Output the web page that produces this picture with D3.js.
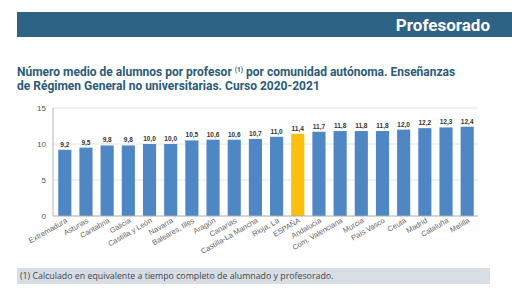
<!DOCTYPE html>
<html>
<head>
<meta charset="utf-8">
<script src="https://cdn.jsdelivr.net/npm/d3@7"></script>
<style>
  body { margin: 0; background: #fff; }
  svg { display: block; font-family: "Liberation Sans", Arial, sans-serif; }
</style>
</head>
<body>
<div id="chart"></div>
<script>
var regions = ['Extremadura', 'Asturias', 'Cantabria', 'Galicia', 'Castilla y León',
    'Navarra', 'Baleares, Illes', 'Aragón', 'Canarias', 'Castilla-La Mancha',
    'Rioja, La', 'ESPAÑA', 'Andalucía', 'Com. Valenciana', 'Murcia', 'País Vasco',
    'Ceuta', 'Madrid', 'Cataluña', 'Melilla'];
var ratios = [9.2, 9.5, 9.8, 9.8, 10.0, 10.0, 10.5, 10.6, 10.6, 10.7,
    11.0, 11.4, 11.7, 11.8, 11.8, 11.8, 12.0, 12.2, 12.3, 12.4];
var yTicks = [0, 5, 10, 15];

var width = 512, height = 293;
var blue = '#4f87c5', highlight = '#fbbf0e';

var svg = d3.select('#chart').append('svg')
    .attr('width', width)
    .attr('height', height);

// header band
svg.append('rect')
    .attr('x', 17).attr('y', 12)
    .attr('width', width - 17).attr('height', 25)
    .attr('fill', '#2d6384');
svg.append('text')
    .attr('x', 490).attr('y', 31)
    .attr('text-anchor', 'end')
    .attr('fill', '#fff')
    .attr('font-size', 17)
    .attr('font-weight', 'bold')
    .attr('font-family', 'Roboto, "Liberation Sans", sans-serif')
    .text('Profesorado');

// title
var title = svg.append('text')
    .attr('fill', '#2b5b78')
    .attr('font-size', 12)
    .attr('font-weight', 'bold')
    .attr('font-family', 'Roboto, "Liberation Sans", sans-serif');
var line1 = title.append('tspan').attr('x', 17).attr('y', 76);
line1.append('tspan').text('Número medio de alumnos por profesor ');
line1.append('tspan').attr('font-size', 6.5).attr('dy', -4).text('(1)');
line1.append('tspan').attr('dy', 4).text(' por comunidad autónoma. Enseñanzas');
title.append('tspan').attr('x', 17).attr('y', 89.5)
    .text('de Régimen General no universitarias. Curso 2020-2021');

// plot
var x = d3.scaleBand()
    .domain(regions)
    .range([54, 478])
    .paddingInner(0.38)
    .paddingOuter(0.2);

var y = d3.scaleLinear()
    .domain([0, 15])
    .range([216, 108]);

var grid = svg.append('g');
grid.selectAll('line')
    .data(yTicks.filter(function (d) { return d > 0; }))
  .enter().append('line')
    .attr('x1', 53).attr('x2', 478)
    .attr('y1', function (d) { return y(d); })
    .attr('y2', function (d) { return y(d); })
    .attr('stroke', '#e4e4e4');

svg.append('line')
    .attr('x1', 53).attr('x2', 53)
    .attr('y1', y(15)).attr('y2', y(0))
    .attr('stroke', '#b8b8b8');

svg.selectAll('.ytick')
    .data(yTicks)
  .enter().append('text')
    .attr('class', 'ytick')
    .attr('x', 46)
    .attr('y', function (d) { return y(d) + 3; })
    .attr('text-anchor', 'end')
    .attr('font-size', 8)
    .attr('fill', '#555')
    .text(function (d) { return d; });

svg.selectAll('.bar')
    .data(ratios)
  .enter().append('rect')
    .attr('class', 'bar')
    .attr('x', function (d, i) { return x(regions[i]); })
    .attr('width', x.bandwidth())
    .attr('y', function (d) { return y(d); })
    .attr('height', function (d) { return y(0) - y(d); })
    .attr('fill', function (d, i) { return regions[i] === 'ESPAÑA' ? highlight : blue; });

svg.selectAll('.val')
    .data(ratios)
  .enter().append('text')
    .attr('class', 'val')
    .attr('x', function (d, i) { return x(regions[i]) + x.bandwidth() / 2; })
    .attr('y', function (d) { return y(d) - 3; })
    .attr('text-anchor', 'middle')
    .attr('font-size', 6.5)
    .attr('font-weight', 'bold')
    .attr('fill', '#333')
    .text(function (d) { return d.toFixed(1).replace('.', ','); });

svg.append('line')
    .attr('x1', 53).attr('x2', 478)
    .attr('y1', y(0)).attr('y2', y(0))
    .attr('stroke', '#aaa');

svg.selectAll('.xlab')
    .data(regions)
  .enter().append('text')
    .attr('class', 'xlab')
    .attr('transform', function (d) {
        return 'translate(' + (x(d) + x.bandwidth() / 2 + 3) + ',' + 222 + ') rotate(-30)';
    })
    .attr('text-anchor', 'end')
    .attr('font-size', 7.5)
    .attr('fill', '#666')
    .text(function (d) { return d; });

// footnote
svg.append('rect')
    .attr('x', 17).attr('y', 268)
    .attr('width', 473).attr('height', 16)
    .attr('fill', '#d8dee6');
svg.append('text')
    .attr('x', 20).attr('y', 279)
    .attr('font-size', 8.8)
    .attr('font-family', '"Open Sans", sans-serif')
    .attr('fill', '#444')
    .text('(1) Calculado en equivalente a tiempo completo de alumnado y profesorado.');
</script>
</body>
</html>
